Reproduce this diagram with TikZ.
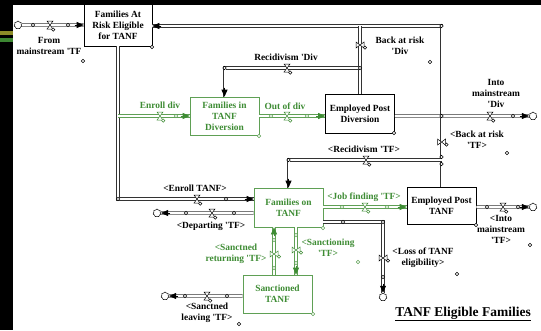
\documentclass[tikz,border=0pt]{standalone}
\usepackage{fontspec}
\setmainfont{Liberation Serif}
\usetikzlibrary{arrows.meta,shapes.symbols,calc}
\definecolor{tgreen}{RGB}{62,140,52}
\definecolor{bgreen}{RGB}{95,160,85}
\definecolor{olivec}{RGB}{140,140,40}
\definecolor{stripeg}{RGB}{60,135,50}
\newcommand\lblfont{\fontsize{9.4}{11}\selectfont\bfseries}
\newcommand\tq{\textquotesingle}
\tikzset{
  stock/.style={draw=black, line width=0.6pt, fill=white, inner sep=0pt, align=center, font=\lblfont},
  gstock/.style={stock, draw=bgreen, text=tgreen},
  lbl/.style={font=\lblfont, align=center, inner sep=0pt},
  glbl/.style={lbl, text=tgreen},
  pipe/.style={draw=black!80, double=white, double distance=2pt, line width=0.65pt},
  gpipe/.style={pipe, draw=bgreen},
  tip/.style={-{Triangle[length=7pt 0,width=6pt 0]}, line width=0.6pt, draw=black, fill=black},
  gtip/.style={tip, draw=tgreen, fill=tgreen},
  cloudsrc/.style={cloud, cloud puffs=7, draw=black, fill=white, minimum width=8pt, minimum height=8pt, inner sep=0pt, line width=0.5pt},
  pdot/.style={draw=black, fill=white, line width=0.45pt},
  gdot/.style={pdot, draw=bgreen},
  hvalve/.pic={\draw[fill=white,line width=0.5pt] (-3,-4)--(3,-4)--(-3,4)--(3,4)--cycle;
               \draw[fill=white,line width=0.5pt] (3.2,4.6) circle (1.7);},
  vvalve/.pic={\draw[fill=white,line width=0.5pt] (-4,-3)--(-4,3)--(4,-3)--(4,3)--cycle;
               \draw[fill=white,line width=0.5pt] (5,2.6) circle (1.7);}
}
\begin{document}
\begin{tikzpicture}[x=1pt,y=-1pt]
\useasboundingbox (0,0) rectangle (541,330);
\fill[white] (0,0) rectangle (541,330);
\fill[black] (0,0) rectangle (541,4.5);
\fill[black] (0,0) rectangle (13,330);
\fill[olivec] (0,31) rectangle (13,34.5);
\fill[stripeg] (0,38) rectangle (13,41.5);

% stocks
\node[stock, minimum width=68pt, minimum height=42pt] (far) at (118,25) {Families At\\Risk Eligible\\for TANF};
\node[gstock, minimum width=69pt, minimum height=38pt] (ftd) at (224.5,116) {Families in\\TANF\\Diversion};
\node[stock, minimum width=69pt, minimum height=39pt] (epd) at (360,113.5) {Employed Post\\Diversion};
\node[gstock, minimum width=69pt, minimum height=39pt] (fot) at (288.5,207.5) {Families on\\TANF};
\node[stock, minimum width=69pt, minimum height=37pt] (ept) at (441.5,205.5) {Employed Post\\TANF};
\node[gstock, minimum width=69pt, minimum height=38pt] (snc) at (277.5,294) {Sanctioned\\TANF};

% clouds
\node[cloudsrc] (k1) at (18,25) {};
\node[cloudsrc] (k8) at (533,116) {};
\node[cloudsrc] (k11) at (533,207) {};
\node[cloudsrc] (k12) at (157,213) {};
\node[cloudsrc] (k13) at (383,297) {};
\node[cloudsrc] (k16) at (165,296) {};

% coordinates
\coordinate (tr) at (441.5,26);
\coordinate (rd1) at (360,68);
\coordinate (rd2) at (224.5,68);
\coordinate (ed1) at (118,116);
\coordinate (et1) at (118,199);
\coordinate (rt1) at (441.5,160);
\coordinate (rt2) at (288.5,160);
\coordinate (ls1) at (383,222);
\coordinate (sx) at (296,0);
\coordinate (rx) at (274,0);

% black pipes
\draw[pipe] (k1.east) -- (far.west);
\draw[pipe] (ept.north) -- (tr) -- (far.east |- tr);
\draw[pipe] (epd.north) -- (epd.north |- tr);
\draw[pipe] (rd1) -- (rd2) -- (ftd.north);
\draw[pipe] (far.south) -- (et1) -- (et1 -| fot.west);
\draw[pipe] (epd.east |- k8) -- (k8.west);
\draw[pipe] (rt1) -- (rt2) -- (fot.north);
\draw[pipe] (ept.east |- k11) -- (k11.west);
\draw[pipe] (fot.west |- k12) -- (k12.east);
\draw[pipe] (fot.east |- ls1) -- (ls1) -- (k13.north);
\draw[pipe] (snc.west |- k16) -- (k16.east);
% green pipes
\draw[gpipe] (ed1) -- (ed1 -| ftd.west);
\draw[gpipe] (ftd.east) -- (ftd.east -| epd.west);
\draw[gpipe] (fot.east |- 0,207) -- (ept.west |- 0,207);
\draw[gpipe] (fot.south -| sx) -- (snc.north -| sx);
\draw[gpipe] (snc.north -| rx) -- (fot.south -| rx);

% arrow tips
\draw[tip] ($(far.west)+(-9,0)$) -- (far.west);
\draw[tip] ($(far.east |- tr)+(9,0)$) -- (far.east |- tr);
\draw[tip] ($(ftd.north)+(0,-9)$) -- (ftd.north);
\draw[tip] ($(et1 -| fot.west)+(-9,0)$) -- (et1 -| fot.west);
\draw[tip] ($(k8.west)+(-9,0)$) -- (k8.west);
\draw[tip] ($(fot.north)+(0,-9)$) -- (fot.north);
\draw[tip] ($(k11.west)+(-9,0)$) -- (k11.west);
\draw[tip] ($(k12.east)+(9,0)$) -- (k12.east);
\draw[tip] ($(k13.north)+(0,-9)$) -- (k13.north);
\draw[tip] ($(k16.east)+(9,0)$) -- (k16.east);
\draw[gtip] ($(ed1 -| ftd.west)+(-9,0)$) -- (ed1 -| ftd.west);
\draw[gtip] ($(ftd.east -| epd.west)+(-9,0)$) -- (ftd.east -| epd.west);
\draw[gtip] ($(ept.west |- 0,207)+(-9,0)$) -- (ept.west |- 0,207);
\draw[gtip] ($(snc.north -| sx)+(0,-9)$) -- (snc.north -| sx);
\draw[gtip] ($(fot.south -| rx)+(0,9)$) -- (fot.south -| rx);

% pipe end markers
\foreach \p in {(33,25),(68,25),(441.5,26),(360,68),(224.5,68),(118,199),(226,199),
  (441.5,116),(513,116),(288.5,160),(441.5,157),(441.5,164),(487,207),(518,207),
  (186,213),(234,213),(343,222),(383,222),(383,277),(185,296),(227,296)}
  \draw[pdot] \p circle (1.7);
\foreach \p in {(176,116),(271,116),(307,116),(342,207),(387,207),
  (296,235),(296,263),(274,240),(274,268)}
  \draw[gdot] \p circle (1.7);

% valves
\pic at (50,25) {hvalve};
\pic at (360,45) {vvalve};
\pic at (441.5,142) {vvalve};
\pic at (287,68) {hvalve};
\pic[color=tgreen] at (160,116) {hvalve};
\pic at (197,199) {hvalve};
\pic[color=tgreen] at (287,116) {hvalve};
\pic at (490,116) {hvalve};
\pic at (366,160) {hvalve};
\pic[color=tgreen] at (365,207) {hvalve};
\pic at (503,207) {hvalve};
\pic at (212,213) {hvalve};
\pic at (383,258) {vvalve};
\pic[color=tgreen] at (296,250) {vvalve};
\pic[color=tgreen] at (274,254) {vvalve};
\pic at (207,296) {hvalve};

% stray variable markers
\foreach \p in {(83,61),(430,62),(507,153),(530,245),(457,274),(239,324),
  (152,47),(394,133),(476,225)}
  \draw[pdot] \p circle (1.8);
\foreach \p in {(358,262),(259,136),(323,228),(313,314)}
  \draw[gdot] \p circle (1.8);

% labels
\node[lbl] (lfrom) at (49,46) {From\\mainstream \tq TF};
\node[lbl] (lbrd) at (400,46) {Back at risk\\\tq Div};
\node[lbl] (lbrt) at (477,140) {<Back at risk\\\tq TF>};
\node[lbl] (lrecd) at (286,57) {Recidivism \tq Div};
\node[glbl] (lendiv) at (160,105) {Enroll div};
\node[glbl] (loutdiv) at (285,106) {Out of div};
\node[lbl] (limd) at (496,93) {Into\\mainstream\\\tq Div};
\node[lbl] (lrect) at (364,149) {<Recidivism \tq TF>};
\node[lbl] (lent) at (195,188) {<Enroll TANF>};
\node[glbl] (ljob) at (364,197) {<Job finding \tq TF>};
\node[lbl] (ldep) at (211,226) {<Departing \tq TF>};
\node[lbl] (limt) at (501,229) {<Into\\mainstream\\\tq TF>};
\node[lbl] (lloss) at (423,258) {<Loss of TANF\\eligibility>};
\node[glbl] (lsanc) at (328,248) {<Sanctioning\\\tq TF>};
\node[glbl] (lret) at (236,254) {<Sanctned\\returning \tq TF>};
\node[lbl] (lleave) at (207,313) {<Sanctned\\leaving \tq TF>};
\node[inner sep=0pt, font=\fontsize{13.5}{15}\selectfont\bfseries] (title) at (463,314) {\underline{TANF Eligible Families}};
\end{tikzpicture}
\end{document}
